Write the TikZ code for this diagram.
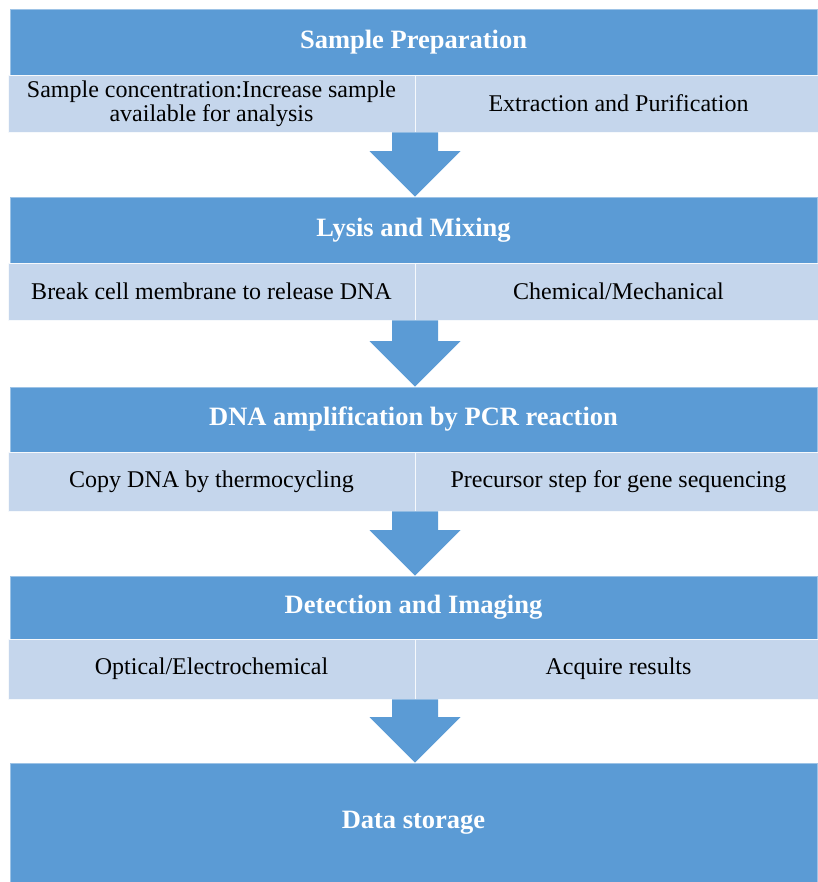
\documentclass[tikz,border=0pt]{standalone}
\usepackage{fontspec}
\setmainfont{Liberation Serif}
\usetikzlibrary{calc}
\definecolor{headblue}{HTML}{5B9BD5}
\definecolor{cellblue}{HTML}{C5D6EC}
\tikzstyle{head} = [fill=headblue, draw=headblue!60!white, line width=0.6pt, text=white, font=\fontsize{26.5}{29}\selectfont\bfseries, minimum width=807pt, inner sep=0pt]
\tikzstyle{cell} = [fill=cellblue, draw=white!85!cellblue, line width=0.8pt, font=\fontsize{24}{24}\selectfont, minimum width=407pt, inner sep=0pt, align=center]
\tikzstyle{downarrow} = [fill=headblue, to path={let \p1=(\tikztostart), \p2=(\tikztotarget) in
  (\x1-23pt,\y1) -- (\x1-23pt,\y2+45.5pt) -- (\x1-45.5pt,\y2+45.5pt) -- (\x1,\y2)
  -- (\x1+45.5pt,\y2+45.5pt) -- (\x1+23pt,\y2+45.5pt) -- (\x1+23pt,\y1) -- cycle}]

\begin{document}
\begin{tikzpicture}[x=1pt,y=-1pt]
\useasboundingbox (0,0) rectangle (817,882);
% headers
\node[head, minimum height=66pt] (prep) at (413.5,42) {Sample Preparation};
\node[head, minimum height=66pt] (lysis) at (413.5,230) {Lysis and Mixing};
\node[head, minimum height=65pt] (pcr) at (413.5,419.5) {DNA amplification by PCR reaction};
\node[head, minimum height=63pt] (detect) at (413.5,607.5) {Detection and Imaging};
\node[head, minimum height=119pt] (store) at (413.5,822.5) {Data storage};
% sub rows
\node[cell, minimum height=57pt] (conc) at (211.5,103.5) {Sample concentration:Increase sample\\available for analysis};
\node[cell, minimum height=57pt] (extract) at (618.5,103.5) {Extraction and Purification};
\node[cell, minimum height=57pt] (membrane) at (211.5,291.5) {Break cell membrane to release DNA};
\node[cell, minimum height=57pt] (chem) at (618.5,291.5) {Chemical/Mechanical};
\node[cell, minimum height=59pt] (copy) at (211.5,481.5) {Copy DNA by thermocycling};
\node[cell, minimum height=59pt] (precursor) at (618.5,481.5) {Precursor step for gene sequencing};
\node[cell, minimum height=60pt] (optical) at (211.5,669) {Optical/Electrochemical};
\node[cell, minimum height=60pt] (acquire) at (618.5,669) {Acquire results};
% arrows
\coordinate (a1) at ($(conc.south east)!0.5!(extract.south west)$);
\coordinate (a2) at ($(membrane.south east)!0.5!(chem.south west)$);
\coordinate (a3) at ($(copy.south east)!0.5!(precursor.south west)$);
\coordinate (a4) at ($(optical.south east)!0.5!(acquire.south west)$);
\path[downarrow] (a1) to (lysis.north);
\path[downarrow] (a2) to (pcr.north);
\path[downarrow] (a3) to (detect.north);
\path[downarrow] (a4) to (store.north);
\end{tikzpicture}
\end{document}
